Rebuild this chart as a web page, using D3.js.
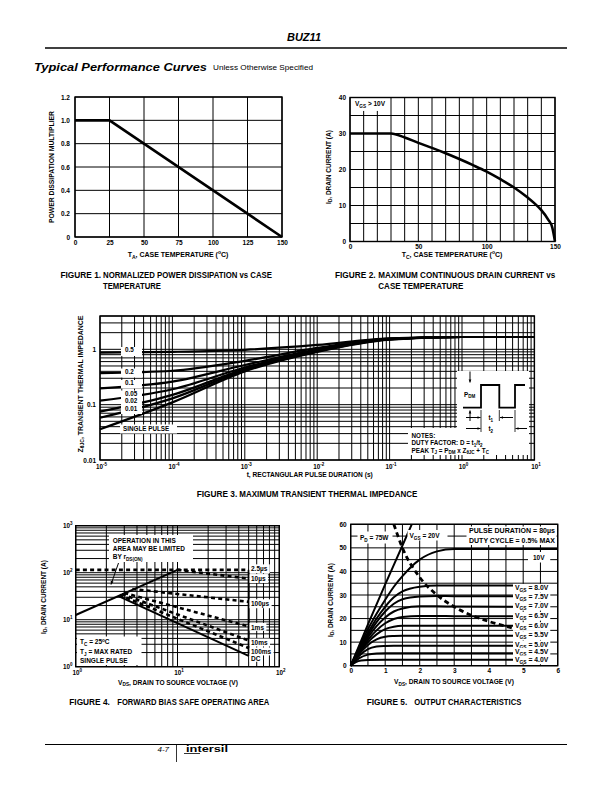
<!DOCTYPE html>
<html><head><meta charset="utf-8">
<script src="https://cdnjs.cloudflare.com/ajax/libs/d3/7.8.5/d3.min.js"></script>
<style>body{margin:0;background:#fff}svg{display:block}</style>
</head><body>
<script>
// ================= DATA =================
// Figure 1: normalized power dissipation vs case temperature
const fig1Temp = [0, 25, 150];
const fig1Mult = [1.0, 1.0, 0.0];
const fig1XTicks = [0, 25, 50, 75, 100, 125, 150];
const fig1YTicks = [0, 0.2, 0.4, 0.6, 0.8, 1.0, 1.2];

// Figure 2: max continuous drain current vs case temperature
const fig2Temp = [0, 30, 40, 50, 60, 70, 80, 90, 100, 110, 120, 130, 135, 140, 145, 148, 150];
const fig2Current = [30, 30, 28.9, 27.4, 26, 24.5, 22.9, 21.2, 19.4, 17.3, 15, 12.2, 10.6, 8.7, 6.1, 3.9, 0];
const fig2XTicks = [0, 50, 100, 150];
const fig2YTicks = [0, 10, 20, 30, 40];
const fig2XGrid = [0,10,20,30,40,50,60,70,80,90,100,110,120,130,140,150];
const fig2YGrid = [0,5,10,15,20,25,30,35,40];

// Figure 3: transient thermal impedance
const fig3Time = [1e-5, 1e-4, 1e-3, 1e-2, 1e-1, 1, 10];
const fig3Labels = ["0.5", "0.2", "0.1", "0.05", "0.02", "0.01", "SINGLE PULSE"];
const fig3Z = [
  [0.87, 0.90, 0.98, 1.20, 1.58, 1.67, 1.67],
  [0.37, 0.41, 0.62, 1.06, 1.56, 1.67, 1.67],
  [0.197, 0.26, 0.52, 1.00, 1.54, 1.67, 1.67],
  [0.118, 0.19, 0.47, 0.96, 1.53, 1.67, 1.67],
  [0.075, 0.15, 0.44, 0.94, 1.52, 1.67, 1.67],
  [0.058, 0.13, 0.42, 0.92, 1.51, 1.67, 1.67],
  [0.036, 0.11, 0.40, 0.90, 1.50, 1.67, 1.67]
];
const fig3XTicks = [1e-5, 1e-4, 1e-3, 1e-2, 1e-1, 1, 10];
const fig3XExp = ["-5", "-4", "-3", "-2", "-1", "0", "1"];
const fig3YTicks = [0.01, 0.1, 1];
const fig3YTickText = ["0.01", "0.1", "1"];

// Figure 4: forward bias safe operating area
const fig4Names = ["2.5\u00b5s", "10\u00b5s", "100\u00b5s", "1ms", "10ms", "100ms", "DC"];
const fig4V = [[1, 50], [10, 50], [3.6, 50], [3.0, 50], [2.85, 50], [2.7, 50], [2.6, 50]];
const fig4I = [[115, 115], [115, 75], [45, 24], [37, 7.2], [35, 3.6], [33.5, 2.5], [32, 1.7]];
const fig4RdsV = [1, 10];
const fig4RdsI = [12.6, 115];
const fig4LimitV = [50, 50];
const fig4LimitI = [1.7, 115];
const fig4XTicks = [1, 10, 100];
const fig4XExp = ["0", "1", "2"];
const fig4YTicks = [1, 10, 100, 1000];
const fig4YExp = ["0", "1", "2", "3"];

// Figure 5: output characteristics
const fig5Gate = ["20V", "10V", "8.0V", "7.5V", "7.0V", "6.5V", "6.0V", "5.5V", "5.0V", "4.5V", "4.0V"];
const fig5V = [
  [0, 0.5, 1, 1.5, 1.77],
  [0, 0.25, 0.5, 0.75, 1, 1.25, 1.5, 2, 2.5, 3, 6],
  [0, 0.25, 0.5, 0.75, 1, 1.25, 1.5, 2, 2.5, 3, 4.75],
  [0, 0.25, 0.5, 0.75, 1, 1.25, 1.5, 2, 2.5, 3, 4.75],
  [0, 0.25, 0.5, 0.75, 1, 1.25, 1.5, 2, 2.5, 3, 4.75],
  [0, 0.25, 0.5, 0.75, 1, 1.25, 1.5, 2, 2.5, 3, 4.75],
  [0, 0.25, 0.5, 0.75, 1, 1.25, 1.5, 2, 2.5, 3, 4.75],
  [0, 0.25, 0.5, 0.75, 1, 1.25, 1.5, 2, 2.5, 3, 4.75],
  [0, 0.25, 0.5, 0.75, 1, 1.25, 1.5, 2, 2.5, 3, 4.75],
  [0, 0.25, 0.5, 0.75, 1, 1.25, 1.5, 2, 2.5, 3, 4.75],
  [0, 0.15, 0.3, 0.5, 1, 1.25, 1.5, 2, 2.5, 3, 4.75]
];
const fig5I = [
  [0, 17.5, 34.5, 51, 60],
  [0, 8, 15.5, 22, 28, 33.5, 38, 45, 48.5, 49.5, 49.5],
  [0, 7.5, 14, 20, 25, 29, 31.5, 33.5, 34, 34, 34],
  [0, 7, 13, 18.5, 23, 26.3, 28.2, 29.4, 29.6, 29.5, 29.5],
  [0, 6.5, 12, 16.8, 20.5, 23, 24.3, 25.2, 25.2, 25.1, 25],
  [0, 6, 11, 15, 18, 19.8, 20.7, 21.1, 21.1, 21, 21],
  [0, 5.5, 10, 13.3, 15.5, 16.5, 16.9, 17, 17, 17, 17],
  [0, 5, 8.8, 11.2, 12.3, 12.6, 12.7, 12.7, 12.7, 12.7, 12.7],
  [0, 4.2, 7, 8.1, 8.4, 8.5, 8.5, 8.5, 8.5, 8.5, 8.5],
  [0, 3.2, 4.7, 5.2, 5.3, 5.3, 5.3, 5.3, 5.3, 5.3, 5.3],
  [0, 1.5, 2.2, 2.45, 2.5, 2.5, 2.5, 2.5, 2.5, 2.5, 2.5]
];
const fig5PdV = [1.25, 1.5, 2, 2.5, 3, 3.5, 4, 4.5, 4.75];
const fig5PdI = [60, 50, 37.5, 30, 25, 21.4, 18.8, 16.7, 15.8];
const fig5XTicks = [0, 1, 2, 3, 4, 5, 6];
const fig5YTicks = [0, 10, 20, 30, 40, 50, 60];
const fig5XGrid = [0,0.5,1,1.5,2,2.5,3,3.5,4,4.5,5,5.5,6];
const fig5YGrid = [0,5,10,15,20,25,30,35,40,45,50,55,60];

// ================= DRAWING =================
const FONT = "'Liberation Sans', Arial, Helvetica, sans-serif";
const NARROW = "'Liberation Sans Narrow', 'Liberation Sans', Arial, sans-serif";
const svg = d3.select("body").append("svg").attr("width", 612).attr("height", 792);
svg.append("rect").attr("width", 612).attr("height", 792).attr("fill", "#fff");

function rich(parent, x, y, str, o = {}) {
  const size = o.size || 6.5;
  const t = parent.append("text").attr("x", x).attr("y", y)
    .attr("font-family", o.family || FONT).attr("font-size", size)
    .attr("font-weight", o.weight || "bold").attr("text-anchor", o.anchor || "start")
    .attr("fill", "#000");
  if (o.style) t.attr("font-style", o.style);
  if (o.rotate) t.attr("transform", `rotate(${o.rotate},${x},${y})`);
  if (o.len) t.attr("textLength", o.len).attr("lengthAdjust", "spacingAndGlyphs");
  const re = /([_^])\{([^}]*)\}/g;
  let last = 0, cur = 0, m;
  const seg = (s, off, sz) => {
    if (!s) return;
    const sp = t.append("tspan").attr("dy", (off - cur).toFixed(2)).text(s);
    if (sz) sp.attr("font-size", sz);
    cur = off;
  };
  while ((m = re.exec(str))) {
    seg(str.slice(last, m.index), 0);
    seg(m[2], m[1] === "_" ? size * 0.3 : -size * 0.42, size * 0.72);
    last = re.lastIndex;
  }
  seg(str.slice(last), 0);
  return t;
}
function boxed(parent, x, y, str, o = {}, pad = [1.5, 1.5, 1.5, 1.5]) {
  const g = parent.append("g");
  const r = g.append("rect").attr("fill", "#fff");
  const t = rich(g, x, y, str, o);
  const b = t.node().getBBox();
  r.attr("x", b.x - pad[3]).attr("y", b.y - pad[0] + 0.5)
   .attr("width", b.width + pad[1] + pad[3]).attr("height", b.height + pad[0] + pad[2] - 1.5);
  return g;
}
function whiteRect(parent, x, y, w, h) {
  parent.append("rect").attr("x", x).attr("y", y).attr("width", w).attr("height", h).attr("fill", "#fff");
}
function grid(g, xs, ys, xv, yv, w = 1) {
  const [X0, X1] = xs.range(), [Y0, Y1] = ys.range();
  g.append("g").selectAll("line").data(xv).join("line")
    .attr("x1", d => xs(d)).attr("x2", d => xs(d)).attr("y1", Y1).attr("y2", Y0)
    .attr("stroke", "#000").attr("stroke-width", w);
  g.append("g").selectAll("line").data(yv).join("line")
    .attr("y1", d => ys(d)).attr("y2", d => ys(d)).attr("x1", X0).attr("x2", X1)
    .attr("stroke", "#000").attr("stroke-width", w);
}
function border(g, xs, ys) {
  const [X0, X1] = xs.range(), [Y0, Y1] = ys.range();
  g.append("rect").attr("x", X0).attr("y", Y1).attr("width", X1 - X0).attr("height", Y0 - Y1)
    .attr("fill", "none").attr("stroke", "#000").attr("stroke-width", 1.4);
}
function styleAxis(ag) {
  ag.select(".domain").remove();
  ag.selectAll("text").attr("font-family", FONT).attr("font-size", 6.5)
    .attr("font-weight", "bold").attr("fill", "#000");
}
function leftAxis(g, ys, vals, fmt, xpos, pad = 4) {
  const ag = g.append("g").attr("transform", `translate(${xpos},0)`)
    .call(d3.axisLeft(ys).tickValues(vals).tickFormat(fmt).tickSize(0).tickPadding(pad));
  styleAxis(ag); return ag;
}
function bottomAxis(g, xs, vals, fmt, ypos, pad = 3) {
  const ag = g.append("g").attr("transform", `translate(0,${ypos})`)
    .call(d3.axisBottom(xs).tickValues(vals).tickFormat(fmt).tickSize(0).tickPadding(pad));
  styleAxis(ag); return ag;
}
function arrow(g, x1, y1, x2, y2, h = 3, w = 1) {
  g.append("line").attr("x1", x1).attr("y1", y1).attr("x2", x2).attr("y2", y2)
    .attr("stroke", "#000").attr("stroke-width", w);
  const a = Math.atan2(y2 - y1, x2 - x1);
  const p = [[x2, y2],
    [x2 - h * Math.cos(a) + h * 0.45 * Math.sin(a), y2 - h * Math.sin(a) - h * 0.45 * Math.cos(a)],
    [x2 - h * Math.cos(a) - h * 0.45 * Math.sin(a), y2 - h * Math.sin(a) + h * 0.45 * Math.cos(a)]];
  g.append("path").attr("d", "M" + p.join("L") + "Z").attr("fill", "#000");
}
function caption(g, x1, x2, y, head, body, len, line2, len2) {
  rich(g, x1, y, head, { family: NARROW, size: 8.3 });
  rich(g, x2, y, body, { family: NARROW, size: 8.3, len: len });
  if (line2) rich(g, x2, y + 11.5, line2, { family: NARROW, size: 8.3, len: len2 });
}
const fmt1 = d => d === 0 ? "0" : d.toFixed(1);

// ---------- Header ----------
rich(svg, 304, 41, "BUZ11", { size: 11, style: "italic", anchor: "middle" });
svg.append("line").attr("x1", 45).attr("x2", 567).attr("y1", 48).attr("y2", 48)
  .attr("stroke", "#000").attr("stroke-width", 1.3);
rich(svg, 34, 70.5, "Typical Performance Curves", { size: 11.5, style: "italic", len: 173 });
rich(svg, 213, 69.5, "Unless Otherwise Specified", { size: 7, weight: "normal", len: 100 });

// ---------- Figure 1 ----------
{
  const g = svg.append("g");
  const xs = d3.scaleLinear().domain([0, 150]).range([75, 282]);
  const ys = d3.scaleLinear().domain([0, 1.2]).range([237, 97]);
  grid(g, xs, ys, fig1XTicks, fig1YTicks);
  g.append("path").datum(fig1Temp.map((t, i) => [t, fig1Mult[i]]))
    .attr("d", d3.line().x(d => xs(d[0])).y(d => ys(d[1])))
    .attr("fill", "none").attr("stroke", "#000").attr("stroke-width", 2.6);
  border(g, xs, ys);
  leftAxis(g, ys, fig1YTicks, fmt1, 75, 5);
  bottomAxis(g, xs, fig1XTicks, d => String(d), 237, 3);
  rich(g, 178, 257, "T_{A}, CASE TEMPERATURE (^{o}C)", { size: 7, anchor: "middle" });
  rich(g, 54, 167, "POWER DISSIPATION MULTIPLIER", { size: 6.5, anchor: "middle", rotate: -90, len: 112 });
  caption(g, 60.5, 103, 277.5, "FIGURE 1.", "NORMALIZED POWER DISSIPATION vs CASE", 169, "TEMPERATURE", 58);
}

// ---------- Figure 2 ----------
{
  const g = svg.append("g");
  const xs = d3.scaleLinear().domain([0, 150]).range([350, 555]);
  const ys = d3.scaleLinear().domain([0, 40]).range([241.5, 97.5]);
  grid(g, xs, ys, fig2XGrid, fig2YGrid);
  g.append("path").datum(fig2Temp.map((t, i) => [t, fig2Current[i]]))
    .attr("d", d3.line().x(d => xs(d[0])).y(d => ys(d[1])).curve(d3.curveMonotoneX))
    .attr("fill", "none").attr("stroke", "#000").attr("stroke-width", 2.6);
  boxed(g, 355, 106, "V_{GS} > 10V", { size: 6.5 }, [3, 4, 3, 3.5]);
  border(g, xs, ys);
  leftAxis(g, ys, fig2YTicks, d => String(d), 350, 4);
  bottomAxis(g, xs, fig2XTicks, d => String(d), 241.5, 2.5);
  rich(g, 452, 257, "T_{C}, CASE TEMPERATURE (^{o}C)", { size: 7, anchor: "middle" });
  rich(g, 330.5, 167, "I_{D}, DRAIN CURRENT (A)", { size: 6.5, anchor: "middle", rotate: -90 });
  caption(g, 335, 378.3, 277.5, "FIGURE 2.", "MAXIMUM CONTINUOUS DRAIN CURRENT vs", 177, "CASE TEMPERATURE", 85);
}

// ---------- Figure 3 ----------
{
  const g = svg.append("g");
  const xs = d3.scaleLog().domain([1e-5, 10]).range([100, 534.4]);
  const ys = d3.scaleLog().domain([0.01, 4]).range([460, 316]);
  const xg = [], yg = [];
  for (let k = -5; k <= 0; k++) for (let m = 1; m <= 9; m++) xg.push(m * Math.pow(10, k));
  xg.push(10);
  for (let k = -2; k <= -1; k++) for (let m = 1; m <= 9; m++) yg.push(m * Math.pow(10, k));
  yg.push(1, 2, 3, 4);
  grid(g, xs, ys, xg, yg);
  const line = d3.line().x(d => xs(d[0])).y(d => ys(d[1])).curve(d3.curveMonotoneX);
  fig3Z.forEach(arr => {
    g.append("path").datum(fig3Time.map((t, i) => [t, arr[i]])).attr("d", line)
      .attr("fill", "none").attr("stroke", "#000").attr("stroke-width", 2.2);
  });
  // curve labels
  const labY = [352, 373.5, 385, 396, 403, 411, 430.5];
  whiteRect(g, 121, 347, 21, 9);
  whiteRect(g, 121, 368.5, 21, 9);
  whiteRect(g, 121, 380, 21, 8.5);
  whiteRect(g, 121, 390.5, 21, 23.5);
  whiteRect(g, 120, 424.5, 57, 9);
  fig3Labels.forEach((s, i) => rich(g, i === 6 ? 123 : 125, labY[i], s, { size: 6.3 }));
  // notes boxes
  whiteRect(g, 457, 371, 72, 84);
  whiteRect(g, 408, 428, 121, 27);
  g.append("path").attr("d", "M463,407.7H481V385H499.3V407.7H515V385H525")
    .attr("fill", "none").attr("stroke", "#000").attr("stroke-width", 1.8);
  rich(g, 464, 396.5, "P_{DM}", { size: 6.3 });
  arrow(g, 470, 371.5, 470, 382.5, 3);
  arrow(g, 470, 421, 470, 410.5, 3);
  [[481, 432], [499.3, 421], [515, 432]].forEach(([x, y2]) =>
    g.append("line").attr("x1", x).attr("x2", x).attr("y1", 410).attr("y2", y2).attr("stroke", "#000").attr("stroke-width", 0.8));
  arrow(g, 466, 417.5, 480.5, 417.5, 3);
  arrow(g, 513, 417.5, 500, 417.5, 3);
  arrow(g, 466, 428.5, 480.5, 428.5, 3);
  arrow(g, 527, 428.5, 515.5, 428.5, 3);
  rich(g, 488.5, 420, "t_{1}", { size: 6.3 });
  rich(g, 488.5, 431, "t_{2}", { size: 6.3 });
  rich(g, 411.5, 437.5, "NOTES:", { size: 6.3 });
  rich(g, 411.5, 445, "DUTY FACTOR: D = t_{1}/t_{2}", { size: 6.3 });
  rich(g, 411.5, 452.5, "PEAK T_{J} = P_{DM} x Z_{\u03b8JC} + T_{C}", { size: 6.3 });
  border(g, xs, ys);
  leftAxis(g, ys, fig3YTicks, (d, i) => fig3YTickText[i], 100, 4);
  fig3XTicks.forEach((t, i) => rich(g, xs(t) + 1.5, 468.5, "10^{" + fig3XExp[i] + "}", { size: 6.3, anchor: "middle" }));
  rich(g, 309.7, 477, "t, RECTANGULAR PULSE DURATION (s)", { size: 6.6, anchor: "middle" });
  rich(g, 82.5, 384, "Z_{\u03b8JC}, TRANSIENT THERMAL IMPEDANCE", { size: 6.3, anchor: "middle", rotate: -90, len: 137 });
  caption(g, 196.7, 239.3, 496.5, "FIGURE 3.", "MAXIMUM TRANSIENT THERMAL IMPEDANCE", 178);
}

// ---------- Figure 4 ----------
{
  const g = svg.append("g");
  const xs = d3.scaleLog().domain([1, 100]).range([75.7, 279.3]);
  const ys = d3.scaleLog().domain([1, 1000]).range([666.7, 525.7]);
  const xg = [], yg = [];
  for (let k = 0; k <= 1; k++) for (let m = 1; m <= 9; m++) xg.push(m * Math.pow(10, k));
  xg.push(100);
  for (let k = 0; k <= 2; k++) for (let m = 1; m <= 9; m++) yg.push(m * Math.pow(10, k));
  yg.push(1000);
  grid(g, xs, ys, xg, yg);
  const line = d3.line().x(d => xs(d[0])).y(d => ys(d[1]));
  const pts = (V, I) => V.map((v, i) => [v, I[i]]);
  fig4Names.forEach((n, k) => {
    const p = g.append("path").datum(pts(fig4V[k], fig4I[k])).attr("d", line)
      .attr("fill", "none").attr("stroke", "#000");
    if (n === "DC") p.attr("stroke-width", 2);
    else p.attr("stroke-width", 2.6).attr("stroke-dasharray", "4,3.2");
  });
  g.append("path").datum(pts(fig4RdsV, fig4RdsI)).attr("d", line)
    .attr("fill", "none").attr("stroke", "#000").attr("stroke-width", 2);
  g.append("path").datum(pts(fig4LimitV, fig4LimitI)).attr("d", line)
    .attr("fill", "none").attr("stroke", "#000").attr("stroke-width", 2);
  // right labels
  const labDy = [-1, 0, 2, 1, 2.5, 4, 2.5];
  fig4Names.forEach((n, k) => {
    const y = ys(fig4I[k][1]) + labDy[k] + 2.2;
    boxed(g, 251, y, n, { size: 6.5 }, [1.2, 2, 1.2, 1.5]);
  });
  // annotation boxes
  whiteRect(g, 109, 535, 84, 27);
  rich(g, 112.7, 542.7, "OPERATION IN THIS", { size: 6.5 });
  rich(g, 112.7, 551, "AREA MAY BE LIMITED", { size: 6.5 });
  rich(g, 112.7, 559.3, "BY r_{DS(ON)}", { size: 6.5 });
  arrow(g, 118.5, 563, 111, 584.5, 3.5, 1);
  whiteRect(g, 77, 636.5, 64.5, 28.5);
  rich(g, 80, 644.3, "T_{C} = 25^{o}C", { size: 6.5 });
  rich(g, 80, 654, "T_{J} = MAX RATED", { size: 6.5 });
  rich(g, 80, 662.5, "SINGLE PULSE", { size: 6.5 });
  border(g, xs, ys);
  fig4YTicks.forEach((v, i) => rich(g, 72.5, ys(v) + 2.3, "10^{" + fig4YExp[i] + "}", { size: 6.3, anchor: "end" }));
  fig4XTicks.forEach((v, i) => rich(g, xs(v) + 1.5, 675, "10^{" + fig4XExp[i] + "}", { size: 6.3, anchor: "middle" }));
  rich(g, 178, 684.5, "V_{DS}, DRAIN TO SOURCE VOLTAGE (V)", { size: 6.6, anchor: "middle" });
  rich(g, 45.5, 597, "I_{D}, DRAIN CURRENT (A)", { size: 6.5, anchor: "middle", rotate: -90 });
  caption(g, 69.3, 117.3, 704.5, "FIGURE 4.", "FORWARD BIAS SAFE OPERATING AREA", 152);
}

// ---------- Figure 5 ----------
{
  const g = svg.append("g");
  const xs = d3.scaleLinear().domain([0, 6]).range([350.7, 557.7]);
  const ys = d3.scaleLinear().domain([0, 60]).range([665.7, 524.3]);
  grid(g, xs, ys, fig5XGrid, fig5YGrid);
  const line = d3.line().x(d => xs(d[0])).y(d => ys(d[1])).curve(d3.curveMonotoneX);
  fig5Gate.forEach((n, k) => {
    g.append("path").datum(fig5V[k].map((v, i) => [v, fig5I[k][i]])).attr("d", line)
      .attr("fill", "none").attr("stroke", "#000").attr("stroke-width", 2);
  });
  g.append("path").datum(fig5PdV.map((v, i) => [v, fig5PdI[i]]))
    .attr("d", d3.line().x(d => xs(d[0])).y(d => ys(d[1])).curve(d3.curveMonotoneX))
    .attr("fill", "none").attr("stroke", "#000").attr("stroke-width", 2.8).attr("stroke-dasharray", "5,3.5");
  // labels
  const gateLabY = [null, null, 590, 599, 608, 618, 628.3, 637.3, 646.6, 654, 661.6];
  fig5Gate.forEach((n, k) => {
    if (k < 2) return;
    boxed(g, 515, gateLabY[k], "V_{GS} = " + n, { size: 6.8 }, [0.6, 1.5, 0.6, 2]);
  });
  boxed(g, 533, 560, "10V", { size: 6.5 }, [2.5, 5, 2.5, 5]);
  whiteRect(g, 357.5, 531.5, 35, 12);
  rich(g, 360, 540, "P_{D} = 75W", { size: 6.5 });
  whiteRect(g, 407.5, 530, 40, 10.5);
  rich(g, 409.5, 538, "V_{GS} = 20V", { size: 6.5 });
  whiteRect(g, 466.5, 526.5, 90, 18.5);
  rich(g, 469, 533.3, "PULSE DURATION = 80\u00b5s", { size: 6.5, len: 86 });
  rich(g, 469, 543, "DUTY CYCLE = 0.5% MAX", { size: 6.5, len: 86 });
  border(g, xs, ys);
  leftAxis(g, ys, fig5YTicks, d => String(d), 350.7, 4);
  bottomAxis(g, xs, fig5XTicks, d => String(d), 665.7, 3);
  rich(g, 454, 684, "V_{DS}, DRAIN TO SOURCE VOLTAGE (V)", { size: 6.6, anchor: "middle" });
  rich(g, 332.5, 600, "I_{D}, DRAIN CURRENT (A)", { size: 6.5, anchor: "middle", rotate: -90 });
  caption(g, 366.7, 414.3, 704.5, "FIGURE 5.", "OUTPUT CHARACTERISTICS", 107);
}

// ---------- Footer ----------
svg.append("line").attr("x1", 45).attr("x2", 567).attr("y1", 744.5).attr("y2", 744.5)
  .attr("stroke", "#000").attr("stroke-width", 1.2);
rich(svg, 169, 752, "4-7", { size: 8, weight: "normal", style: "italic", anchor: "end" });
svg.append("line").attr("x1", 176.5).attr("x2", 176.5).attr("y1", 745).attr("y2", 762)
  .attr("stroke", "#000").attr("stroke-width", 0.8);
rich(svg, 186, 751.5, "intersil", { size: 9.5, len: 42 });
svg.append("line").attr("x1", 184).attr("x2", 200).attr("y1", 753.5).attr("y2", 753.5)
  .attr("stroke", "#000").attr("stroke-width", 0.8);
</script>
</body></html>
